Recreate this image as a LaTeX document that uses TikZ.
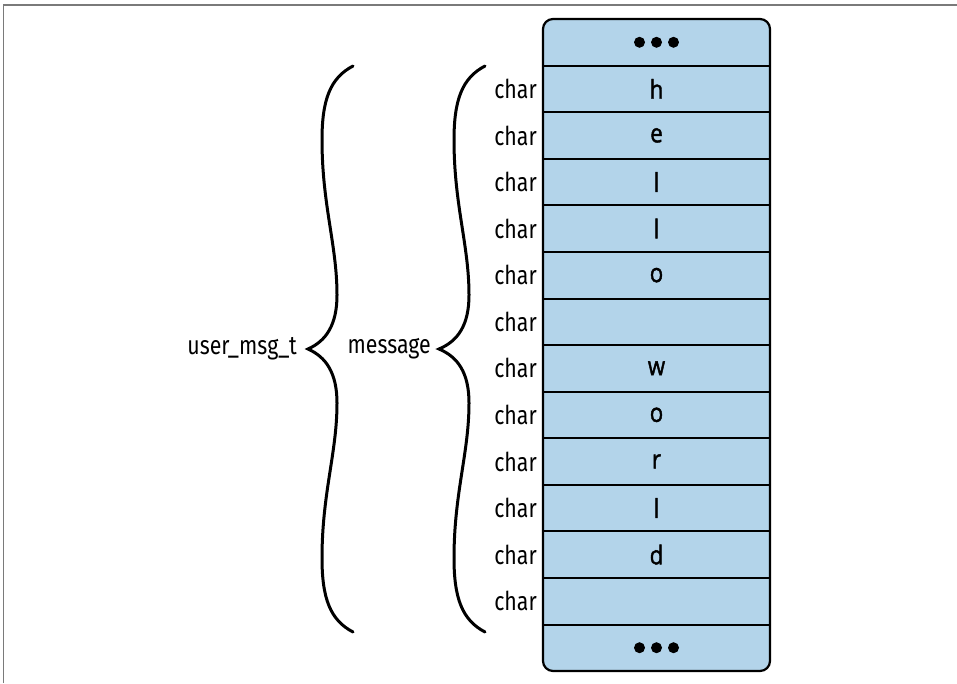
\documentclass[tikz,border=0pt]{standalone}
\usepackage{fontspec}
\setmainfont{Fira Sans}[FakeStretch=0.82]
\newfontfamily\letterfont{Open Sans}[FakeStretch=0.85,FakeBold=1.6]
\definecolor{cellblue}{HTML}{B3D4EA}
\definecolor{framegray}{HTML}{7A7A7A}
\begin{document}
\begin{tikzpicture}[x=1pt,y=-1pt,
  cell/.style={rectangle, minimum width=227pt, minimum height=46.571pt, inner sep=0pt, font=\letterfont\fontsize{26}{26}\selectfont},
  lbl/.style={anchor=east, inner sep=0pt, font=\fontsize{26}{26}\selectfont},
  bracecurve/.style={line width=3pt, line cap=round},
  sep/.style={line width=2pt},
  dot/.style={circle, fill=black, minimum size=11pt, inner sep=0pt}]
\useasboundingbox (0,0) rectangle (957,683);
% frame
\draw[framegray, line width=1.5pt] (3.5,683) -- (3.5,5) -- (957,5);
% outer box
\draw[fill=cellblue, line width=2.2pt, rounded corners=10pt] (543,19) rectangle (770,671);
% rows
\def\rh{46.571}
\foreach \i/\t in {0/,1/h,2/e,3/l,4/l,5/o,6/,7/w,8/o,9/r,10/l,11/d,12/,13/}{
  \node[cell] (r\i) at (656.5,{19+\rh*(\i+0.5)}) {\t};
}
\foreach \i in {1,...,12}{
  \node[lbl] (c\i) at (537,{19+\rh*(\i+0.5)}) {char};
}
\foreach \i in {0,...,12}{
  \draw[sep] (r\i.south west) -- (r\i.south east);
}
% dots
\foreach \r in {r0,r13}{
  \node[dot] (\r a) at ([xshift=-17pt]\r.center) {};
  \node[dot] (\r b) at (\r.center) {};
  \node[dot] (\r c) at ([xshift=17pt]\r.center) {};
}
% braces
\coordinate (btA) at (308,349);
\coordinate (btB) at (439,349);
\draw[bracecurve] (353,66) .. controls (330,78) and (322,100) .. (322,140)
  .. controls (322,205) and (337,245) .. (337,295)
  .. controls (337,325) and (326,341) .. (btA)
  .. controls (326,357) and (337,373) .. (337,403)
  .. controls (337,453) and (322,493) .. (322,558)
  .. controls (322,598) and (330,620) .. (353,632);
\draw[bracecurve] (485,66) .. controls (462,78) and (454,100) .. (454,140)
  .. controls (454,205) and (469,245) .. (469,295)
  .. controls (469,325) and (458,341) .. (btB)
  .. controls (458,357) and (469,373) .. (469,403)
  .. controls (469,453) and (454,493) .. (454,558)
  .. controls (454,598) and (462,620) .. (485,632);
\node[lbl] (umsg) at (297,349) {user\_msg\_t};
\node[lbl] (msg) at (431,349) {message};
\end{tikzpicture}
\end{document}
